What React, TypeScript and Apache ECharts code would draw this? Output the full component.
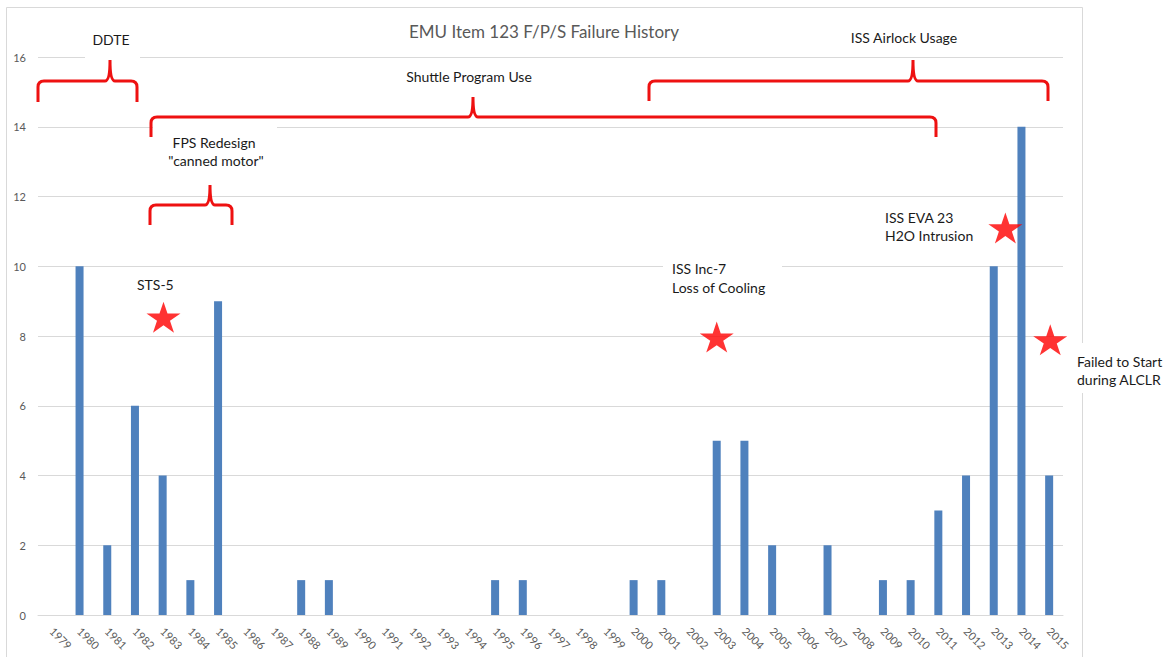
import React, { useEffect, useRef } from "react";
import * as echarts from "echarts";

const years = [
  "1979", "1980", "1981", "1982", "1983", "1984", "1985", "1986", "1987", "1988",
  "1989", "1990", "1991", "1992", "1993", "1994", "1995", "1996", "1997", "1998",
  "1999", "2000", "2001", "2002", "2003", "2004", "2005", "2006", "2007", "2008",
  "2009", "2010", "2011", "2012", "2013", "2014", "2015",
];
const failures = [
  0, 10, 2, 6, 4, 1, 9, 0, 0, 1,
  1, 0, 0, 0, 0, 0, 1, 1, 0, 0,
  0, 1, 1, 0, 5, 5, 2, 0, 2, 0,
  1, 1, 3, 4, 10, 14, 4,
];
// star markers: position in category index units and value units
const starX = [4.03, 24.0, 34.42, 36.04];
const starY = [8.54, 7.97, 11.1, 7.89];

const yTicks = { min: 0, max: 16, interval: 2 };

const STAR =
  "path://M50,0 L61.23,34.55 L97.55,34.55 L68.17,55.9 L79.39,90.45 L50,69.1 L20.61,90.45 L31.83,55.9 L2.45,34.55 L38.77,34.55 Z";

function bracePath(x0: number, x1: number, y: number, yb: number, px: number, py: number) {
  const r = 6;
  return (
    `M${x0} ${yb} L${x0} ${y + r} Q${x0} ${y} ${x0 + r} ${y} ` +
    `L${px - 5} ${y} Q${px} ${y} ${px} ${py} Q${px} ${y} ${px + 5} ${y} ` +
    `L${x1 - r} ${y} Q${x1} ${y} ${x1} ${y + r} L${x1} ${yb}`
  );
}

const braces = [
  { name: "braceDDTE", d: bracePath(38, 137, 81, 102, 110, 60) },
  { name: "braceShuttle", d: bracePath(151, 936, 117, 137, 473, 97) },
  { name: "braceISS", d: bracePath(649, 1048, 81, 101, 913, 60) },
  { name: "braceFPS", d: bracePath(150, 232, 205, 225, 210, 185) },
];
braces.forEach((b) => {
  echarts.graphic.registerShape(b.name, (echarts.graphic as any).extendPath(b.d, {}));
});

const FONT = "Lato, 'Open Sans', sans-serif";
const annColor = "#1a1a1a";

function txt(text: string, x: number, y: number, align: string = "left", size = 14, color = annColor) {
  return {
    type: "text",
    x,
    y,
    z: 20,
    style: {
      text,
      fill: color,
      font: `${size}px ${FONT}`,
      textAlign: align,
      textVerticalAlign: "middle",
    },
  };
}

function mask(x: number, y: number, w: number, h: number) {
  return { type: "rect", z: 10, shape: { x, y, width: w, height: h }, style: { fill: "#ffffff" } };
}

export default function App() {
  const ref = useRef<HTMLDivElement>(null);
  useEffect(() => {
    if (!ref.current) return;
    const chart = echarts.init(ref.current, undefined, { renderer: "svg" });
    chart.setOption({
      animation: false,
      backgroundColor: "#ffffff",
      grid: { left: 38, right: 103, top: 57, bottom: 42, containLabel: false },
      xAxis: [
        {
          type: "category",
          data: years,
          axisLine: { show: true, lineStyle: { color: "#d9d9d9" } },
          axisTick: { show: false },
          axisLabel: {
            rotate: -45,
            margin: 14,
            fontSize: 11,
            color: "#595959",
            fontFamily: FONT,
            interval: 0,
          },
        },
        {
          type: "value",
          min: -0.5,
          max: 36.5,
          show: false,
        },
      ],
      yAxis: {
        type: "value",
        min: yTicks.min,
        max: yTicks.max,
        interval: yTicks.interval,
        axisLine: { show: false },
        axisTick: { show: false },
        splitLine: { lineStyle: { color: "#d9d9d9" } },
        axisLabel: { fontSize: 11, color: "#595959", fontFamily: FONT, margin: 12 },
      },
      series: [
        {
          type: "bar",
          data: failures,
          barWidth: 8,
          itemStyle: { color: "#4f81bd" },
        },
        {
          type: "scatter",
          xAxisIndex: 1,
          data: starX.map((x, i) => [x, starY[i]]),
          symbol: STAR,
          symbolSize: [34, 31],
          itemStyle: { color: "#ff0000" },
          z: 5,
        },
      ],
      graphic: [
        {
          type: "rect",
          z: 1,
          shape: { x: 6.5, y: 7.5, width: 1076, height: 700 },
          style: { fill: "none", stroke: "#d9d9d9", lineWidth: 1 },
        },
        mask(85, 24, 55, 34),
        mask(153, 122, 124, 50),
        mask(663, 258, 119, 40),
        mask(1072, 343, 94, 50),
        ...braces.map((b) => ({
          type: b.name,
          z: 15,
          x: 0,
          y: 0,
          style: { stroke: "#ee1111", lineWidth: 3, fill: "none" },
        })),
        txt("EMU Item 123 F/P/S Failure History", 544, 31, "center", 17, "#595959"),
        txt("DDTE", 111, 39, "center"),
        txt("Shuttle Program Use", 469, 76, "center"),
        txt("ISS Airlock Usage", 904, 37, "center"),
        txt("FPS Redesign", 214, 142, "center"),
        txt('"canned motor"', 216, 160, "center"),
        txt("STS-5", 137, 284),
        txt("ISS Inc-7", 672, 268),
        txt("Loss of Cooling", 672, 287),
        txt("ISS EVA 23", 885, 217),
        txt("H2O Intrusion", 885, 235),
        txt("Failed to Start", 1077, 361),
        txt("during ALCLR", 1077, 379),
      ],
    });
    return () => chart.dispose();
  }, []);
  return (
    <div
      ref={ref}
      style={{ position: "fixed", left: 0, top: 0, width: 1166, height: 657 }}
    />
  );
}
